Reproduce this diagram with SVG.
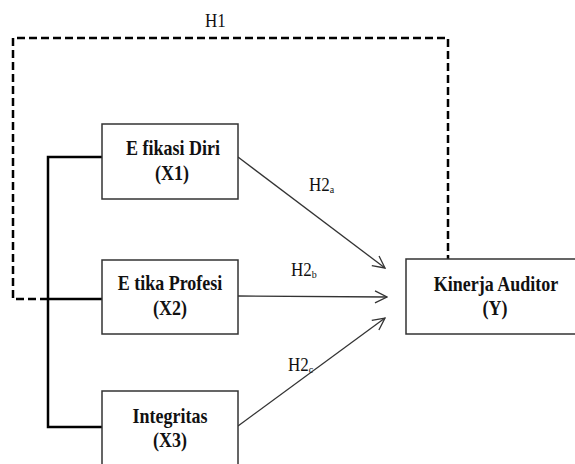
<svg xmlns="http://www.w3.org/2000/svg" width="575" height="464" viewBox="0 0 575 464">
<style>
.box{fill:#fff;stroke:#333;stroke-width:1.5}
.t{font-family:"Liberation Serif","Times New Roman",serif;font-weight:bold;font-size:18px;fill:#111;text-anchor:middle}
.l{font-family:"Liberation Serif","Times New Roman",serif;font-size:17px;fill:#111}
.s{font-size:10px}
.dash{fill:none;stroke:#000;stroke-width:2.5;stroke-dasharray:8,4}
.br{fill:none;stroke:#000;stroke-width:2.5}
.ar{fill:none;stroke:#333;stroke-width:1.3;marker-end:url(#ah)}
</style>
<defs>
<marker id="ah" viewBox="0 0 14 14" refX="13" refY="7" markerWidth="14" markerHeight="14" markerUnits="userSpaceOnUse" orient="auto">
<path d="M1,1 L13,7 L1,13" fill="none" stroke="#333" stroke-width="1.3"/>
</marker>
</defs>
<g id="connectors">
<path class="dash" d="M48,299 H13 V38 H448 V259"/>
<path class="br" d="M102,157 H48 V427 H102 M48,299 H102"/>
<line class="ar" x1="238" y1="157" x2="385" y2="268"/>
<line class="ar" x1="238" y1="296" x2="387" y2="297"/>
<line class="ar" x1="238" y1="426" x2="385" y2="318"/>
<text class="l" transform="translate(205,27) scale(1,1.1)">H1</text>
<text class="l" transform="translate(309,191) scale(1,1.1)">H2<tspan class="s" dy="2">a</tspan></text>
<text class="l" transform="translate(291,276) scale(1,1.1)">H2<tspan class="s" dy="2">b</tspan></text>
<text class="l" transform="translate(288,371) scale(1,1.1)">H2<tspan class="s" dy="2">c</tspan></text>
</g>
<g id="x1">
<rect class="box" x="102" y="124" width="136" height="75"/>
<text class="t" transform="translate(173,155) scale(1,1.12)">E fikasi Diri</text>
<text class="t" transform="translate(172,180) scale(1,1.12)">(X1)</text>
</g>
<g id="x2">
<rect class="box" x="102" y="260" width="136" height="74"/>
<text class="t" transform="translate(170,290) scale(1,1.12)">E tika Profesi</text>
<text class="t" transform="translate(170,315) scale(1,1.12)">(X2)</text>
</g>
<g id="x3">
<rect class="box" x="102" y="391" width="136" height="80"/>
<text class="t" transform="translate(170,423) scale(1,1.12)">Integritas</text>
<text class="t" transform="translate(170,447) scale(1,1.12)">(X3)</text>
</g>
<g id="y">
<rect class="box" x="406" y="259" width="175" height="75"/>
<text class="t" transform="translate(496,291) scale(1,1.12)">Kinerja Auditor</text>
<text class="t" transform="translate(495,315) scale(1,1.12)">(Y)</text>
</g>
</svg>
